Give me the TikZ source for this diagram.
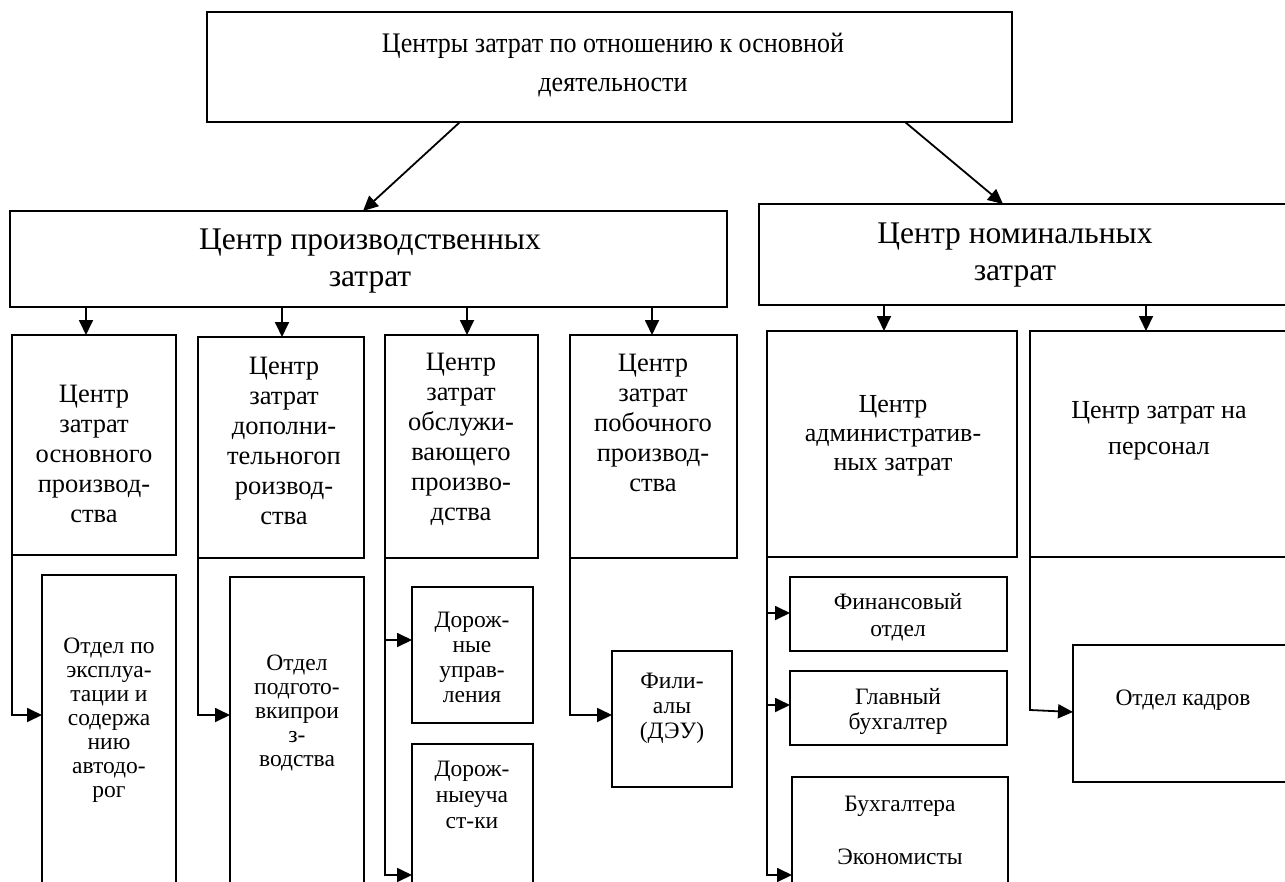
\documentclass[tikz,border=0pt]{standalone}
\usepackage{fontspec}
\setmainfont{Liberation Serif}
\newfontfamily\topfont{Liberation Serif}[FakeStretch=0.92]
\usetikzlibrary{arrows.meta}
\begin{document}
\begin{tikzpicture}[x=1pt,y=-1pt,
  box/.style={draw,line width=1.8pt,inner sep=0pt,outer sep=0pt},
  txt/.style={align=center,inner sep=0pt},
  conn/.style={line width=1.8pt,-{Triangle[length=15pt,width=14pt]}},
  fTop/.style={font=\topfont\fontsize{28.3}{39.5}\selectfont},
  fMid/.style={font=\fontsize{31.5}{37.5}\selectfont},
  fSub/.style={font=\fontsize{26.5}{30}\selectfont},
  fLow/.style={font=\fontsize{23.5}{24}\selectfont}]
\useasboundingbox (0,0) rectangle (1285,881);
\clip (0,0) rectangle (1285,881);
\fill[white] (0,0) rectangle (1285,881);
% boxes: (x1,y1) rectangle (x2,y2)
\newcommand{\mybox}[5]{\node[box,minimum width=#4-#2,minimum height=#5-#3] (#1) at ({(#2+#4)/2},{(#3+#5)/2}) {};}
\mybox{top}{207}{12}{1012}{122}
\mybox{prod}{10}{211}{727}{307}
\mybox{nom}{759}{204}{1292}{305}
\mybox{b1}{12}{335}{176}{555}
\mybox{b2}{198}{337}{364}{558}
\mybox{b3}{385}{335}{538}{558}
\mybox{b4}{570}{335}{737}{558}
\mybox{b5}{767}{331}{1017}{557}
\mybox{b6}{1030}{331}{1292}{557}
\mybox{l1}{42}{575}{176}{895}
\mybox{l2}{230}{577}{364}{895}
\mybox{l3a}{412}{587}{533}{723}
\mybox{l3b}{412}{744}{533}{895}
\mybox{l4}{612}{651}{732}{787}
\mybox{l5a}{790}{577}{1007}{651}
\mybox{l5b}{790}{671}{1007}{745}
\mybox{l5c}{792}{777}{1008}{895}
\mybox{l6}{1073}{645}{1292}{782}
% texts
\node[txt,fTop] (ttop) at (613,65) {Центры затрат по отношению к основной\\деятельности};
\node[txt,fMid] (tprod) at (370,261) {Центр производственных\\затрат};
\node[txt,fMid] (tnom) at (1015,255) {Центр номинальных\\затрат};
\node[txt,fSub] (tb1) at (94,454) {Центр\\затрат\\основного\\производ-\\ства};
\node[txt,fSub] (tb2) at (284,441) {Центр\\затрат\\дополни-\\тельногоп\\роизвод-\\ства};
\node[txt,fSub] (tb3) at (461,439) {Центр\\затрат\\обслужи-\\вающего\\произво-\\дства};
\node[txt,fSub] (tb4) at (653,423) {Центр\\затрат\\побочного\\производ-\\ства};
\node[txt,font=\fontsize{26}{29}\selectfont] (tb5) at (893,436) {Центр\\административ-\\ных затрат};
\node[txt,font=\fontsize{26}{36}\selectfont] (tb6) at (1159,431) {Центр затрат на\\персонал};
\node[txt,fLow] (tl1) at (109,720) {Отдел по\\эксплуа-\\тации и\\содержа\\нию\\автодо-\\рог};
\node[txt,fLow] (tl2) at (297,713) {Отдел\\подгото-\\вкипрои\\з-\\водства};
\node[txt,fLow,font=\fontsize{23.5}{25}\selectfont] (tl3a) at (472,657) {Дорож-\\ные\\управ-\\ления};
\node[txt,fLow,font=\fontsize{23.5}{26}\selectfont] (tl3b) at (472,795) {Дорож-\\ныеуча\\ст-ки};
\node[txt,fLow,font=\fontsize{23.5}{25}\selectfont] (tl4) at (672,708) {Фили-\\алы\\(ДЭУ)};
\node[txt,font=\fontsize{23.5}{27}\selectfont] (tl5a) at (898,617) {Финансовый\\отдел};
\node[txt,font=\fontsize{23.5}{25}\selectfont] (tl5b) at (898,711) {Главный\\бухгалтер};
\node[txt,font=\fontsize{23.5}{53}\selectfont] (tl5c) at (900,830) {Бухгалтера\\Экономисты};
\node[txt,font=\fontsize{23.5}{27}\selectfont] (tl6) at (1183,700) {Отдел кадров};
% connector ends
\coordinate (pl) at (363,211);
\coordinate (pn) at (1003,204);
\coordinate (sl) at (460,122);
\coordinate (sn) at (905,122);
\draw[conn] (sl) -- (pl);
\draw[conn] (sn) -- (pn);
\coordinate (d1) at (86,307);
\coordinate (d2) at (282,307);
\coordinate (d3) at (467,307);
\coordinate (d4) at (652,307);
\coordinate (d5) at (884,305);
\coordinate (d6) at (1146,305);
\draw[conn] (d1) -- (d1 |- b1.north);
\draw[conn] (d2) -- (d2 |- b2.north);
\draw[conn] (d3) -- (d3 |- b3.north);
\draw[conn] (d4) -- (d4 |- b4.north);
\draw[conn] (d5) -- (d5 |- b5.north);
\draw[conn] (d6) -- (d6 |- b6.north);
\coordinate (i1) at (42,715);
\coordinate (i2) at (230,715);
\coordinate (i3a) at (412,640);
\coordinate (i3b) at (412,875);
\coordinate (i4) at (612,715);
\coordinate (i5a) at (790,613);
\coordinate (i5b) at (790,705);
\coordinate (i5c) at (792,875);
\coordinate (i6) at (1073,712);
\coordinate (k6) at (1030,710);
\draw[conn] (b1.south west) |- (i1);
\draw[conn] (b2.south west) |- (i2);
\draw[conn] (b3.south west) |- (i3a);
\draw[conn] (b3.south west) |- (i3b);
\draw[conn] (b4.south west) |- (i4);
\draw[conn] (b5.south west) |- (i5a);
\draw[conn] (b5.south west) |- (i5b);
\draw[conn] (b5.south west) |- (i5c);
\draw[conn] (b6.south west) -- (k6) -- (i6);
\end{tikzpicture}
\end{document}
